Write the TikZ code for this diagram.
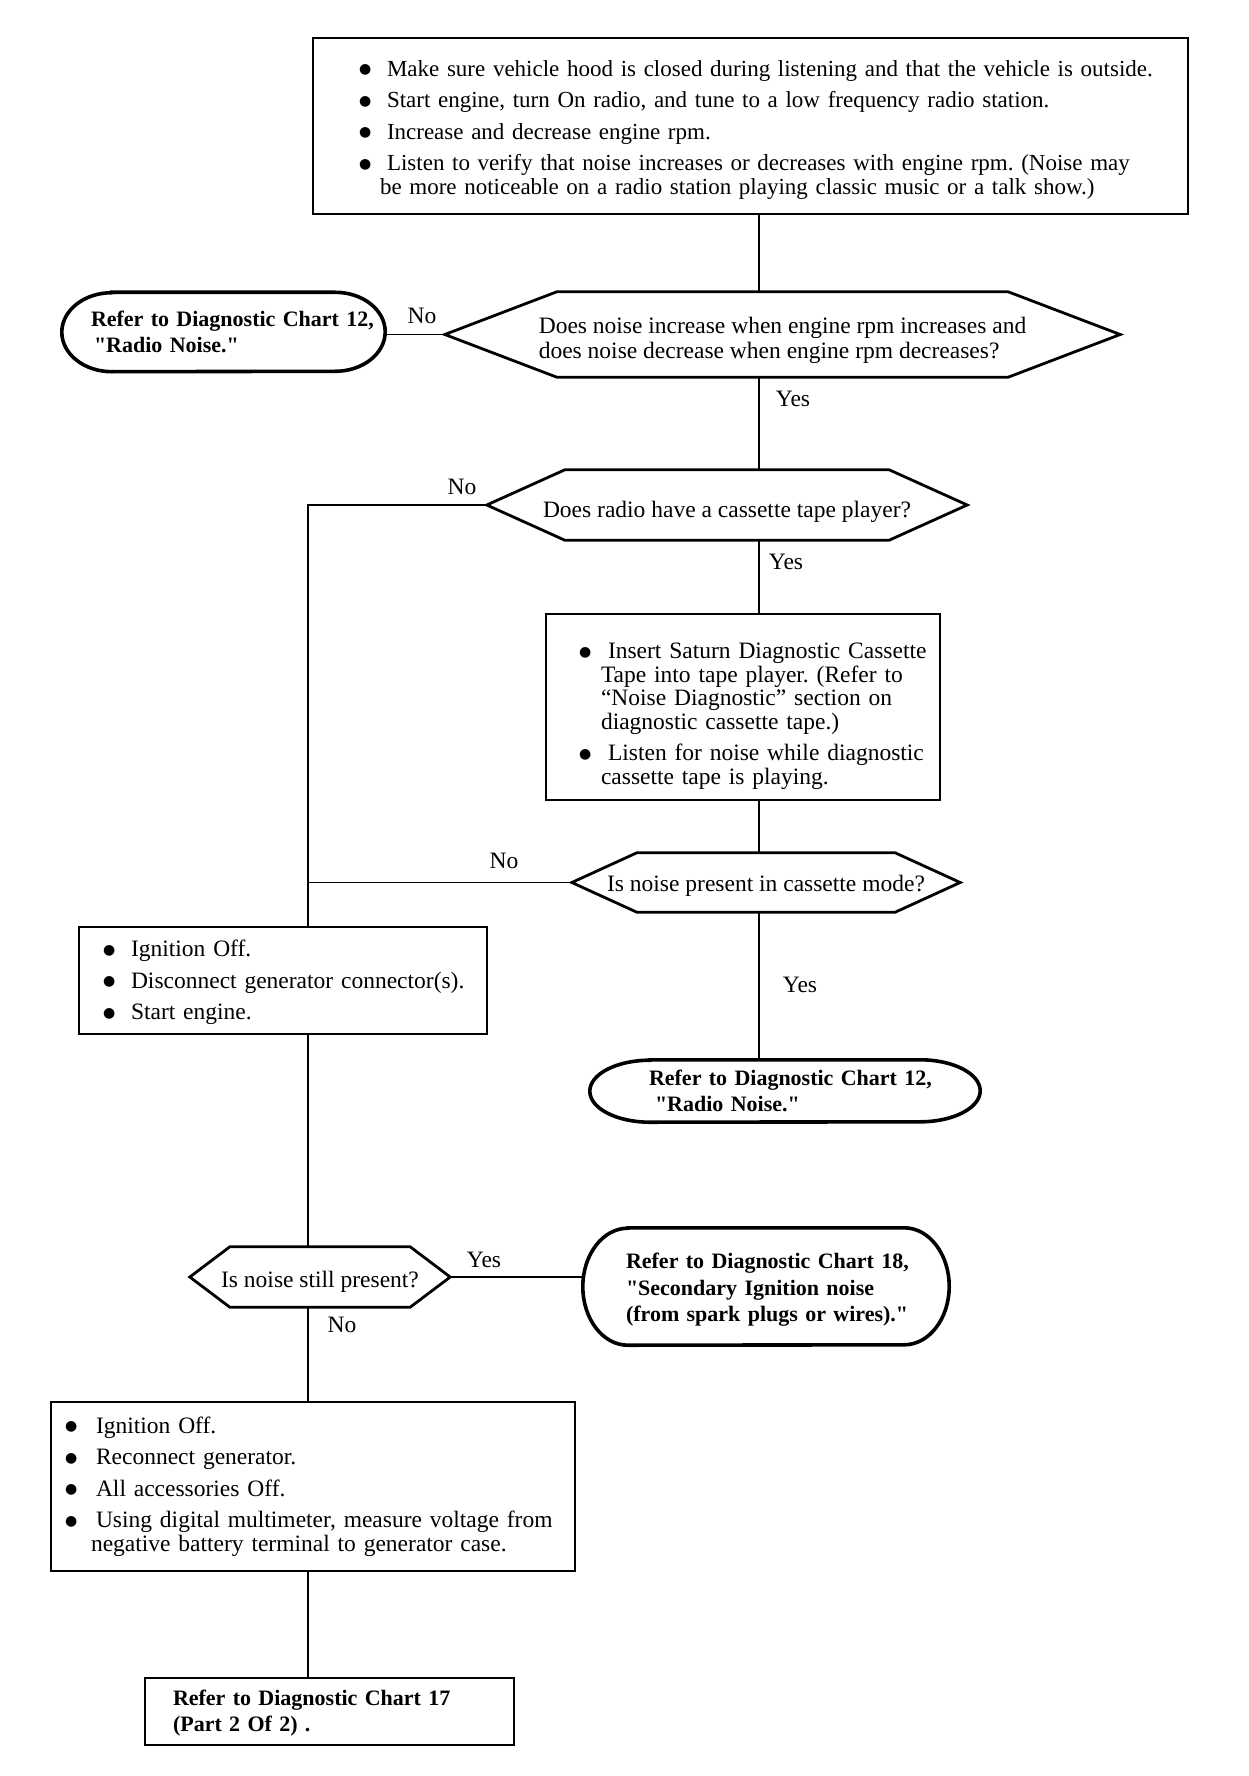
\documentclass[tikz,border=0pt]{standalone}
\usepackage{fontspec}
\setmainfont{Liberation Serif}
\newfontfamily\lsf{Liberation Serif}
\newfontfamily\dvs{DejaVu Sans}
\usetikzlibrary{calc}
\frenchspacing
\newcommand{\bul}[1]{\makebox[#1][l]{\hspace*{-1pt}\raisebox{2.5pt}{\dvs\fontsize{14}{14}\selectfont ●}}}
\newcommand{\hexpath}[2]{\draw[hexline] (#1.west) -- ($(#1.north west)+(#2,0)$) -- ($(#1.north east)+(-#2,0)$) -- (#1.east) -- ($(#1.south east)+(-#2,0)$) -- ($(#1.south west)+(#2,0)$) -- cycle;}
\newcommand{\ovalpath}[3]{\draw[ovalline] ($(#1.north west)+(#2,0)$) -- ($(#1.north east)+(-#2,0)$) arc[start angle=-90,end angle=90,x radius=#2,y radius=#3] -- ($(#1.south west)+(#2,0)$) arc[start angle=90,end angle=270,x radius=#2,y radius=#3] -- cycle;}
\tikzset{
  box/.style={draw, line width=2.2pt, inner xsep=0pt, inner ysep=0pt, align=left},
  hexn/.style={inner sep=0pt, align=left},
  termn/.style={inner sep=0pt, align=left, font=\lsf\bfseries\fontsize{22}{25.5}\selectfont},
  hexline/.style={line width=2.8pt, line join=miter},
  ovalline/.style={line width=3.6pt},
  conn/.style={line width=1.8pt},
  lbl/.style={inner sep=0pt}
}
\begin{document}
\begin{tikzpicture}[x=1pt, y=-1pt, font=\lsf\fontsize{23.5}{23.5}\selectfont]
\fill[white] (0,0) rectangle (1248,1776);
\useasboundingbox (0,0) rectangle (1248,1776);
\coordinate (mc) at (759,0);
\coordinate (lc) at (308,0);

% top box
\node[box, text width=875pt, minimum height=176pt, font=\lsf\fontsize{23}{23.5}\selectfont] (top) at (750.5,126) {%
\hspace*{47pt}\bul{27pt}\rule{0pt}{23.5pt}Make sure vehicle hood is closed during listening and that the vehicle is outside.\\[8pt]
\hspace*{47pt}\bul{27pt}Start engine, turn On radio, and tune to a low frequency radio station.\\[8pt]
\hspace*{47pt}\bul{27pt}Increase and decrease engine rpm.\\[8pt]
\hspace*{47pt}\bul{27pt}Listen to verify that noise increases or decreases with engine rpm. (Noise may\\
\hspace*{67pt}be more noticeable on a radio station playing classic music or a talk show.)};

% decision 1
\node[hexn, minimum width=675pt, minimum height=85pt, font=\lsf\fontsize{23.5}{25}\selectfont] (d1) at (782.5,334.5) {\rule{0pt}{27.5pt}Does noise increase when engine rpm increases and\\does noise decrease when engine rpm decreases?};
\hexpath{d1}{112}

% terminal 1
\node[termn, text width=323pt, minimum height=79pt] (t1) at (223.5,332) {\hspace*{29pt}Refer to Diagnostic Chart 12,\\\hspace*{32pt}"Radio Noise."};
\ovalpath{t1}{50}{39.5}

% decision 2
\node[hexn, minimum width=480pt, minimum height=70pt, text height=30pt, text depth=5pt] (d2) at (727,505) {Does radio have a cassette tape player?};
\hexpath{d2}{78}

% box 2
\node[box, text width=394pt, minimum height=186pt] (b2) at (743,707) {%
\hspace*{34pt}\bul{28pt}\rule{0pt}{34pt}Insert Saturn Diagnostic Cassette\\
\hspace*{55pt}Tape into tape player. (Refer to\\
\hspace*{55pt}“Noise Diagnostic” section on\\
\hspace*{55pt}diagnostic cassette tape.)\\[8pt]
\hspace*{34pt}\bul{28pt}Listen for noise while diagnostic\\
\hspace*{55pt}cassette tape is playing.};

% decision 3
\node[hexn, minimum width=388pt, minimum height=59pt, text height=23pt, text depth=5pt] (d3) at (766,882.5) {Is noise present in cassette mode?};
\hexpath{d3}{65}

% terminal 2
\node[termn, text width=390pt, minimum height=62pt] (t2) at (785,1091) {\hspace*{59pt}Refer to Diagnostic Chart 12,\\\hspace*{65pt}"Radio Noise."};
\ovalpath{t2}{60}{31}

% box 3
\node[box, text width=408pt, minimum height=107pt] (b3) at (283,980.5) {%
\hspace*{25pt}\bul{27pt}\rule{0pt}{21pt}Ignition Off.\\[8pt]
\hspace*{25pt}\bul{27pt}Disconnect generator connector(s).\\[8pt]
\hspace*{25pt}\bul{27pt}Start engine.};

% decision 4
\node[hexn, minimum width=260pt, minimum height=60pt, text height=25pt, text depth=5pt] (d4) at (320,1277) {Is noise still present?};
\hexpath{d4}{40}

% terminal 3
\node[termn, text width=366pt, minimum height=117pt, font=\lsf\bfseries\fontsize{22}{26.5}\selectfont] (t3) at (766,1286.5) {%
\hspace*{43pt}\rule{0pt}{22pt}Refer to Diagnostic Chart 18,\\
\hspace*{43pt}"Secondary Ignition noise\\
\hspace*{43pt}(from spark plugs or wires)."};
\ovalpath{t3}{45}{58.5}

% box 4
\node[box, text width=524pt, minimum height=169pt] (b4) at (313,1486.5) {%
\hspace*{15pt}\bul{30pt}Ignition Off.\\[8pt]
\hspace*{15pt}\bul{30pt}Reconnect generator.\\[8pt]
\hspace*{15pt}\bul{30pt}All accessories Off.\\[8pt]
\hspace*{15pt}\bul{30pt}Using digital multimeter, measure voltage from\\
\hspace*{40pt}negative battery terminal to generator case.};

% box 5
\node[box, text width=369pt, minimum height=67pt, font=\lsf\bfseries\fontsize{22}{26}\selectfont] (b5) at (329.5,1711.5) {%
\hspace*{28pt}\rule{0pt}{19pt}Refer to Diagnostic Chart 17\\
\hspace*{28pt}(Part 2 Of 2) .};

% labels
\node[lbl] (n1) at (422,316) {No};
\node[lbl] (y1) at (793,399) {Yes};
\node[lbl] (n2) at (462,487) {No};
\node[lbl] (y2) at (786,562) {Yes};
\node[lbl] (n3) at (504,861) {No};
\node[lbl] (y3) at (800,985) {Yes};
\node[lbl] (y4) at (484,1260) {Yes};
\node[lbl] (n4) at (342,1325) {No};

% connectors
\draw[conn] (top.south -| mc) -- (d1.north -| mc);
\draw[conn] (d1.west) -- (d1.west -| t1.east);
\draw[conn] (d1.south -| mc) -- (d2.north -| mc);
\draw[conn] (d2.west) -- (d2.west -| lc) -- (b3.north -| lc);
\draw[conn] (d2.south -| mc) -- (b2.north -| mc);
\draw[conn] (b2.south -| mc) -- (d3.north -| mc);
\draw[conn] (d3.west) -- (d3.west -| lc);
\draw[conn] (d3.south -| mc) -- (t2.north -| mc);
\draw[conn] (b3.south -| lc) -- (d4.north -| lc);
\draw[conn] (d4.east) -- (d4.east -| t3.west);
\draw[conn] (d4.south -| lc) -- (b4.north -| lc);
\draw[conn] (b4.south -| lc) -- (b5.north -| lc);
\end{tikzpicture}
\end{document}
